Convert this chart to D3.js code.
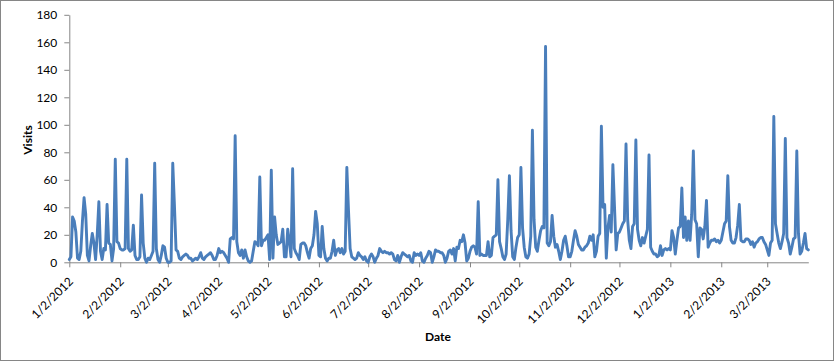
<!DOCTYPE html>
<html>
<head>
<meta charset="utf-8">
<script src="https://cdn.jsdelivr.net/npm/d3@7"></script>
<style>
  html, body { margin: 0; padding: 0; background: #fff; }
  svg { display: block; }
  .tick text { font-family: Lato, "Open Sans", sans-serif; font-size: 12px; fill: #000; }
  .axis-title { font-family: Lato, "Open Sans", sans-serif; font-size: 12px; font-weight: bold; fill: #000; }
</style>
</head>
<body>
<svg id="chart" width="835" height="362"></svg>
<script>
// ---- Data (daily visits, starting 1/2/2012) ----
const startDateLabel = "1/2/2012";
const visitsJan = [2,4,33,30,22,3,2,8,30,47,35,5,1,12,21,14,2,20,44,8,2,10,9,42,14,13,1,10,75,15,14,10,9];
const visitsFeb = [9,10,75,10,8,9,27,5,2,2,4,49,14,3,0,3,2,5,8,72,10,2,0,5,12,11,3,0,0,1,72,42,9,8,3,2,4,5,6,5,3,3,1];
const visitsApr = [2,3,2,4,7,3,2,4,5,6,7,5,2,2,5,10,7,8,7,5,3,0,17,18,17,92,15,7,5,9,3,9,4,1,0,1,8,15,14,12,62,12,16];
const visitsMay = [16,18,20,2,67,3,33,20,13,14,15,24,4,4,24,15,4,68,10,7,5,2,13,14,14,12,7,3,10,12,20,37,28,5,4,26,10,3,1,3,3,8,16];
const visitsJun = [5,9,10,7,10,6,8,69,38,10,4,3,2,3,7,5,4,2,4,1,0,4,6,4,0,3,5,10,8,7,8,7,7,6,7,6,2,1,5,0,4,7];
const visitsJul = [6,5,4,5,1,0,7,5,6,5,7,1,0,3,5,8,7,0,4,9,8,8,7,7,5,0,3,8,9,6,10,1,11,10,16,15,20,14,1,3,8,11,12];
const visitsSep = [11,6,44,5,6,5,5,5,15,4,5,18,19,20,60,15,10,4,2,6,31,63,23,4,2,11,18,20,69,25,11,4,3,6,19,96,31,11,8,16,23,26,25];
const visitsOct = [157,14,12,15,34,19,11,13,8,2,8,16,19,12,4,4,8,16,23,19,13,11,9,9,11,12,14,19,16,20,4,8,19,21,99,40,42,3,25,34,22,71];
const visitsDec = [40,9,21,22,25,28,30,86,31,16,10,26,28,89,24,16,12,18,14,19,24,78,11,8,6,6,4,5,12,5,9,10,9,10,9,23,18,6,16,25,26,54,18];
const visitsJan13 = [33,16,30,16,35,81,31,28,4,25,24,17,26,45,11,14,16,16,17,15,16,14,16,22,28,30,63,26,16,14,14,18,27,42,16,15,15,17,17,16,13,15];
const visitsMar13 = [11,14,15,17,18,18,15,13,9,5,14,16,106,28,21,14,10,15,21,90,18,14,6,11,17,18,81,21,6,8,14,21,10,9];

const yTicks = [0,20,40,60,80,100,120,140,160,180];
const xTickLabels = ["1/2/2012","2/2/2012","3/2/2012","4/2/2012","5/2/2012","6/2/2012","7/2/2012",
  "8/2/2012","9/2/2012","10/2/2012","11/2/2012","12/2/2012","1/2/2013","2/2/2013","3/2/2013"];
const xTitle = "Date";
const yTitle = "Visits";

// ---- Build ----
const parse = d3.utcParse("%m/%d/%Y");
const start = parse(startDateLabel);
const values = [].concat(visitsJan, visitsFeb, visitsApr, visitsMay, visitsJun, visitsJul,
  visitsSep, visitsOct, visitsDec, visitsJan13, visitsMar13);
const data = values.map((v, i) => ({ date: d3.utcDay.offset(start, i), value: v }));

const svg = d3.select("#chart");
const W = 835, H = 362;

// chart border
svg.append("rect").attr("x", 0.5).attr("y", 0.5).attr("width", W - 2).attr("height", H - 2)
  .attr("fill", "#fff").attr("stroke", "#868686").attr("stroke-width", 1);

const x = d3.scaleUtc().domain([start, data[data.length - 1].date]).range([69.3, 808.3]);
const y = d3.scaleLinear().domain([0, 180]).range([262.3, 14.8]);

// y axis
const gy = svg.append("g").attr("transform", "translate(69.3,0)")
  .call(d3.axisLeft(y).tickValues(yTicks).tickSize(5).tickPadding(7).tickSizeOuter(0));
gy.select(".domain").attr("stroke", "#868686");
gy.selectAll(".tick line").attr("stroke", "#868686");

// x axis
const gx = svg.append("g").attr("transform", "translate(0,262.3)")
  .call(d3.axisBottom(x).tickValues(xTickLabels.map(parse)).tickFormat((d, i) => xTickLabels[i])
    .tickSize(5).tickSizeOuter(0));
gx.select(".domain").attr("stroke", "#868686");
gx.selectAll(".tick line").attr("stroke", "#868686");
gx.selectAll(".tick text")
  .attr("text-anchor", "end").attr("x", 0).attr("y", 0).attr("dy", 0)
  .attr("transform", "translate(4,20) rotate(-45)");

// line
const line = d3.line().x(d => x(d.date)).y(d => y(d.value));
svg.append("path").datum(data).attr("d", line)
  .attr("fill", "none").attr("stroke", "#4A7EBB").attr("stroke-width", 2.9)
  .attr("stroke-linejoin", "round").attr("stroke-linecap", "round");

// titles
svg.append("text").attr("class", "axis-title")
  .attr("transform", "translate(32,140) rotate(-90)").attr("text-anchor", "middle").text(yTitle);
svg.append("text").attr("class", "axis-title")
  .attr("x", 438).attr("y", 341).attr("text-anchor", "middle").text(xTitle);
</script>
</body>
</html>
